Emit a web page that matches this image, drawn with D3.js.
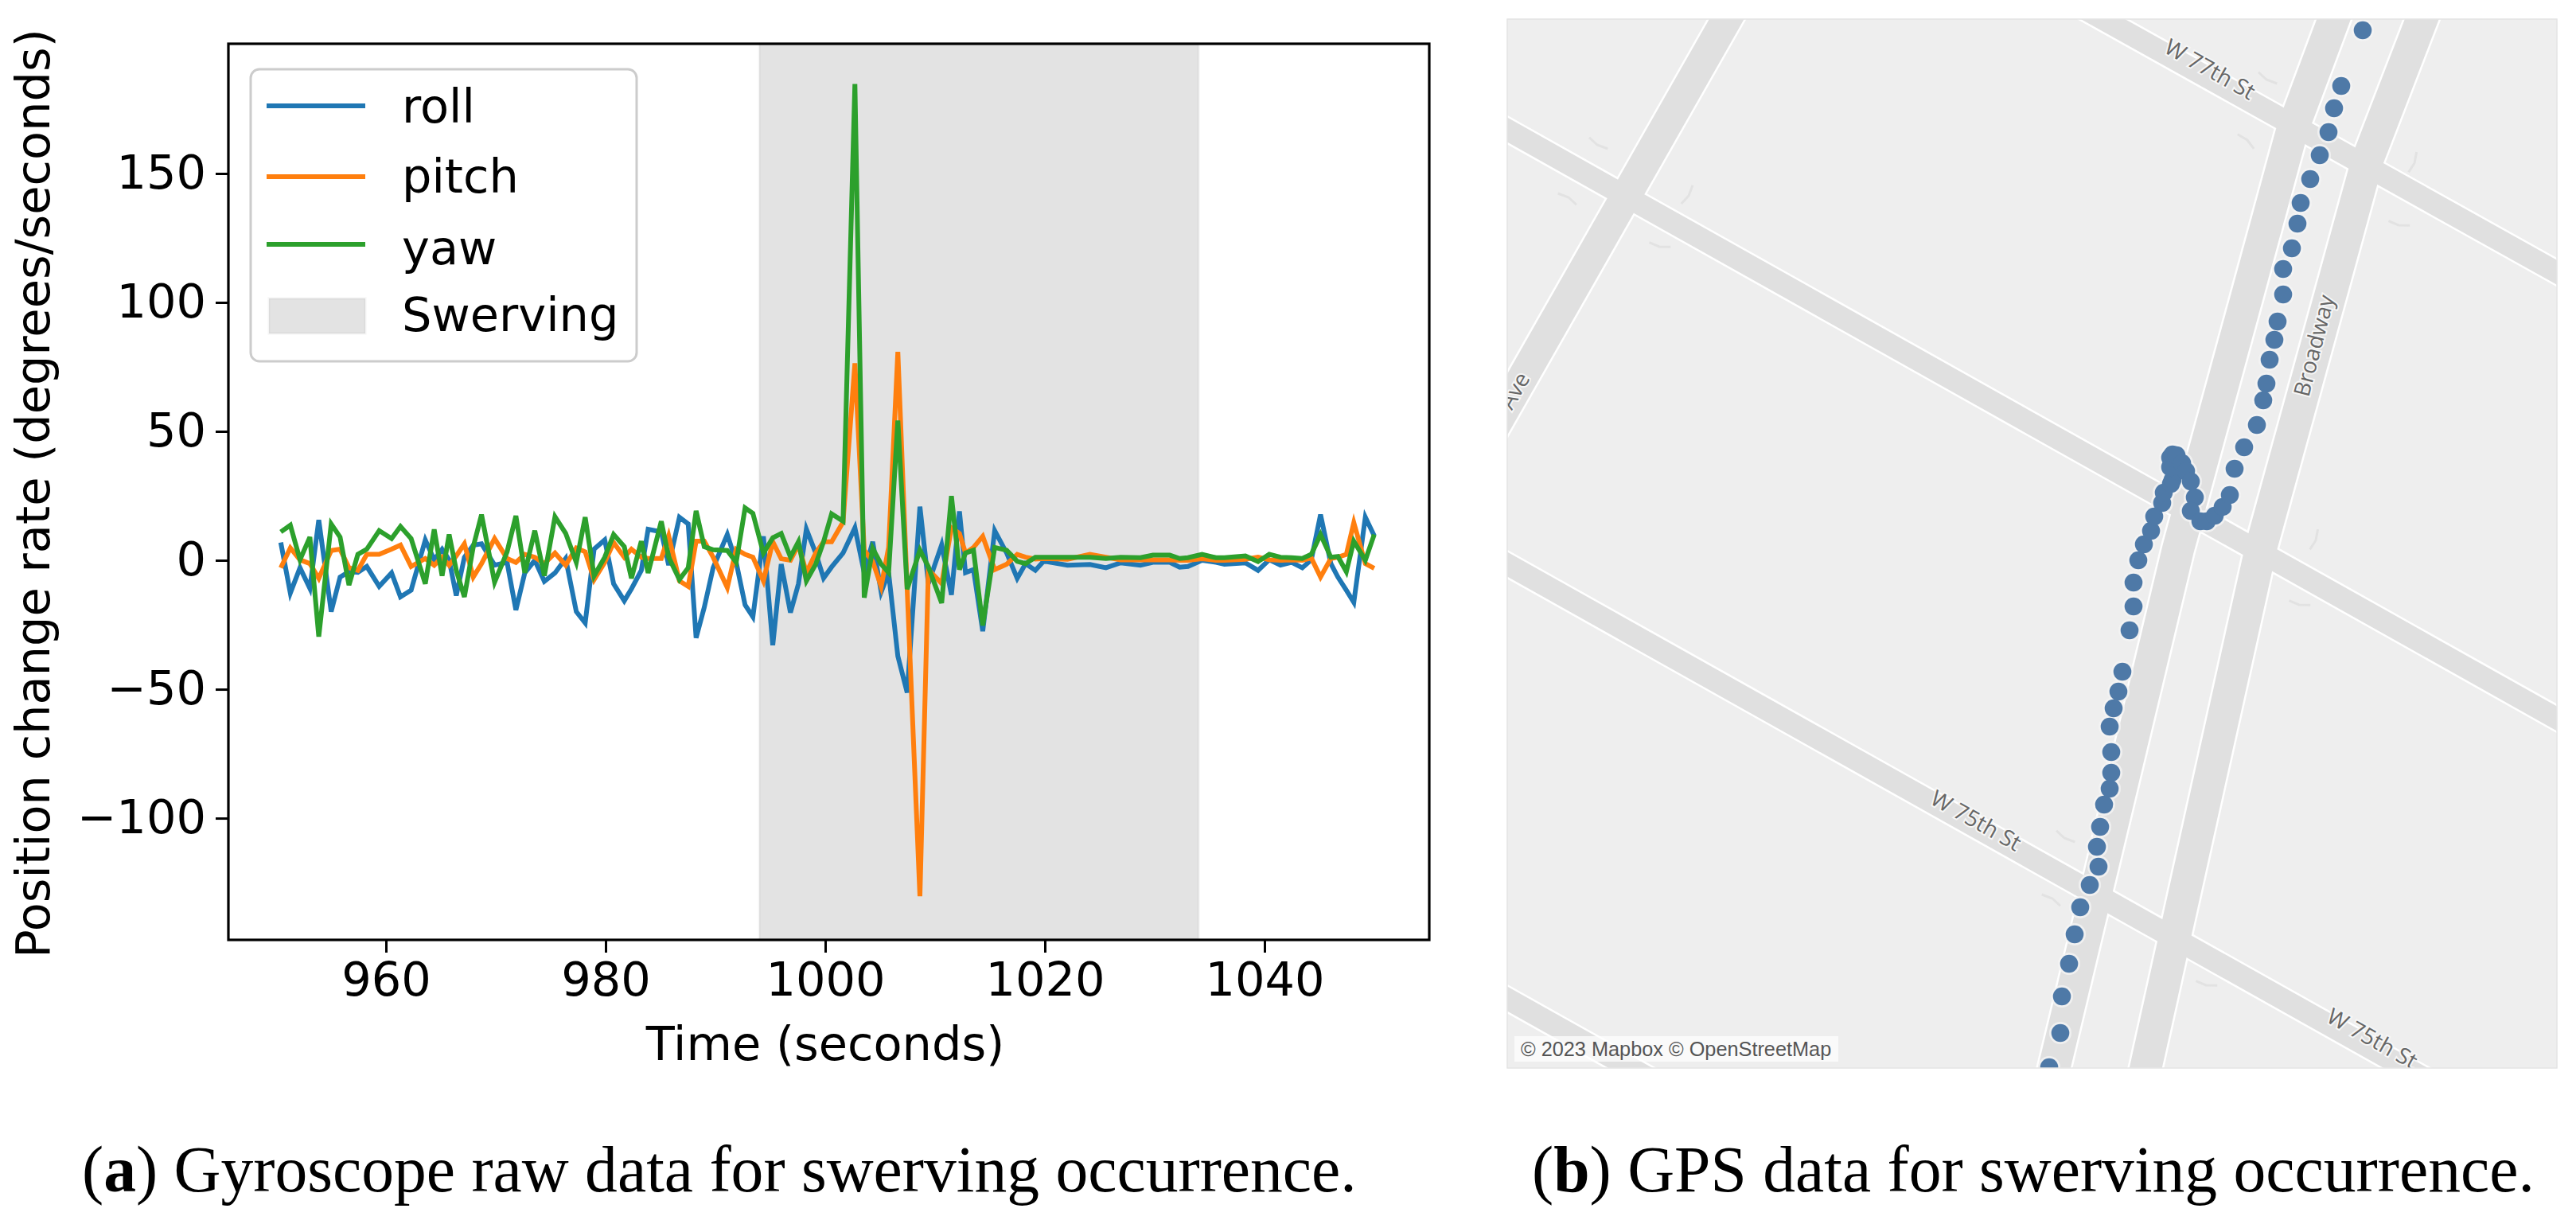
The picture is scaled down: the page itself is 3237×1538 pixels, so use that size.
<!DOCTYPE html>
<html><head><meta charset="utf-8">
<script src="https://cdnjs.cloudflare.com/ajax/libs/d3/7.8.5/d3.min.js"></script>
<style>html,body{margin:0;padding:0;background:#fff}svg{display:block}</style>
</head><body><svg id="c" width="3237" height="1538"></svg>
<script>
const time=[950.42,951.29,952.17,953.07,953.88,955.01,955.82,956.63,957.44,958.25,959.38,960.51,961.32,962.29,963.58,964.39,965.11,965.75,966.40,967.14,967.95,968.70,969.89,971.03,971.83,972.64,973.55,974.42,975.39,976.36,977.33,978.14,978.95,979.92,980.73,981.70,982.35,983.25,983.87,985.07,985.74,986.72,987.52,988.24,988.98,989.79,991.08,991.89,992.70,993.41,
994.37,995.22,995.99,996.83,997.56,998.28,999.13,999.85,1000.58,1001.62,1002.70,1003.55,1004.32,1005.09,1005.77,1006.61,1007.46,1008.62,1009.39,1010.6,1011.49,1012.22,1012.77,1013.5,1014.34,1015.43,1016.52,1017.48,
1018.24,1019.13,1019.9,1022.06,1024.1,1025.56,1026.9,1028.7,1029.84,1031.37,1032.27,1033.03,1034.31,1035.58,1036.35,1038.26,1039.41,1040.43,1041.45,1042.47,1043.44,1044.26,1045.1,1046.04,1046.68,1047.45,1048.13,1049.18,1049.99];
const roll=[6.9,-12.7,-2.9,-10.9,15.6,-19.9,-6.5,-4.4,-4.7,-2.4,-10.1,-4.9,-14.2,-11.6,7.9,0.2,4.3,0.2,-13.7,1.2,5.9,6.4,-1.9,-0.8,-19.3,-4.9,0,-8.2,-4.9,0.7,-19.9,-24.3,4.3,7.9,-9.1,-15.7,-11.1,-3.9,12,11,-1.9,16.7,14.1,-30.1,-18.3,-2.9,10,-0.8,-17.3,-21.9,
9.3,-32.9,-1.5,-20.3,-9.1,12.1,2.8,-6.9,-2.6,2.8,12.6,-4.8,7.2,-12.3,-4.8,-37.2,-51.3,20.8,-9,6,-13.4,19,-4.8,-3.6,-27.5,11.5,2.8,-7,
-1.3,-3.9,-0.3,-1.9,-1.6,-2.9,-1,-1.9,-0.8,-0.8,-2.7,-2.4,0,-0.8,-1.5,-1,-3.9,0.2,-1.9,-0.8,-2.9,0.2,17.7,-1.3,-6.5,-11.6,-16.3,16.7,9.5];
const pitch=[-2.9,4.8,0.2,-1.3,-7,3.8,4.3,-2.9,-3.9,2.3,2.3,4.3,5.9,-2.4,0.7,-1.9,1.2,-1.9,1.7,6.4,-6.5,-1.3,8.4,0.7,-0.8,2.3,1.2,-1.3,2.8,-1.9,4.8,3.3,-7.5,-0.8,6.9,1.2,4.3,1.2,0.7,0.7,9.5,-8,-10.1,7.4,7.4,1.2,-10.6,4.3,2.3,1.2,
-8,7.2,0.6,0,6,-4.8,2.8,7.2,7.2,14.8,76.4,3.9,-0.4,-10.2,5,80.8,-11.2,-130.3,-3.6,-9,12.6,10.4,2.8,5,9.3,-3.6,-1.5,2.3,
1.2,0.5,0.7,0.4,2.3,1.2,0.2,0.2,0.2,0.2,0,0,0.6,0,0,0.4,1.2,0.2,0,0.2,0,0.9,-6.5,0.7,1.2,2.3,14.6,-1.3,-3.1];
const yaw=[11,13.6,0.2,9,-29.6,14.1,9,-9.6,2.3,4.3,11.5,8.4,13.1,8.4,-9.1,12,-6,10,-3.9,-14.2,5.3,17.7,-8.5,3.3,17.2,-4.9,11.5,-6,16.9,10.5,-0.8,16.7,-6,1.2,10,5.3,-7,7.4,-4.9,15.1,1.2,-7.5,-2.9,19.2,5.3,4.1,3.8,-0.8,20.3,18.2,
2.8,8.7,10.4,1.3,7.2,-8,-1.5,7.2,18,15.2,184.7,-14.5,4.6,-1.5,-4.8,54.2,-11.2,3.9,-2.5,-16.6,24.9,-3.6,2.8,3.9,-25.3,5,3.9,-0.4,
-1.3,1.2,1.2,1.2,1.2,0.7,1.2,1,2,2,0.7,1,2.3,1,1,1.7,-0.5,2.3,1.2,1,0.7,2.3,10,1.2,1.5,-4.4,7.4,0,10];
const swerveSpan=[994,1034];
const xTicks=[960,980,1000,1020,1040];
const yTicks=[-100,-50,0,50,100,150];
const seriesNames=["roll","pitch","yaw"];
const seriesColors=["#1f77b4","#ff7f0e","#2ca02c"];

const gpsX=[681,695,697,706,713,720,732,743,741,745,750,757,759,759,757,762,768,773,782,787,787,793,800,809,813,823,825,834,836,843,833,833,836,841,848,853,859,864,859,871,879,889,899,908,914,926,942,950,954,958,964,968,975,975,986,993,997,1009,1021,1032,1039,1048,1075];
const gpsY=[1317,1274,1228,1187,1150,1116,1088,1065,1040,1015,987,967,947,921,889,866,845,820,768,738,708,680,660,643,625,608,595,584,579,568,563,551,547,548,558,568,581,601,618,631,631,624,613,598,565,538,510,479,458,428,403,380,346,314,288,257,231,201,171,142,112,84,14];
const crossStreets=[[[-100,83],[1419,935]],[[700,-27],[1419,374]],[[-100,629],[1229,1374]],[[-100,1175],[255,1374]]];
const avenues=[[[290,-25],[-30,537]],[[1048,-25],[986,141],[843,666],[673,1378]],[[1159,-25],[1081,177],[947,665],[789,1378]]];
const curbMarks=[[113,158,150],[77,224,-30],[228,222,60],[191,286,130],[954,76,150],[930,152,-20],[1140,181,50],[1120,259,130],[1016,655,50],[700,1029,150],[685,1105,-30],[995,736,130],[878,1214,130]];
const mapLabels=[["W 77th St",882,65,29.3],["Broadway",1016,411,-75.5],["W 75th St",588,1009,29.3],["W 75th St",1086,1283,29.3],["Ave",11,468,-60]];

const svg=d3.select("#c");
// ---------- panel (a)
const x=d3.scaleLinear().domain([945.65,1055]).range([287,1796]);
const y=d3.scaleLinear().domain([-147.2,200.3]).range([1181,55]);
const sans="'DejaVu Sans'";
const fs=59;
const a=svg.append("g");
a.append("rect").attr("x",x(swerveSpan[0])).attr("width",x(swerveSpan[1])-x(swerveSpan[0])).attr("y",y.range()[1]).attr("height",y.range()[0]-y.range()[1])
 .attr("fill","#808080").attr("fill-opacity",0.22).attr("stroke","#808080").attr("stroke-opacity",0.08).attr("stroke-width",3);
const line=d3.line().x((d,i)=>x(time[i])).y(d=>y(d)).curve(d3.curveLinear);
[roll,pitch,yaw].forEach((s,i)=>a.append("path").attr("d",line(s)).attr("fill","none").attr("stroke",seriesColors[i]).attr("stroke-width",6).attr("stroke-linejoin","miter").attr("stroke-miterlimit",4));
a.append("rect").attr("x",287).attr("y",55).attr("width",1509).attr("height",1126).attr("fill","none").attr("stroke","#000").attr("stroke-width",3.2);
const ax=a.append("g").attr("transform","translate(0,1181)").call(d3.axisBottom(x).tickValues(xTicks).tickFormat(d3.format("d")).tickSize(16).tickPadding(12));
const ay=a.append("g").attr("transform","translate(287,0)").call(d3.axisLeft(y).tickValues(yTicks).tickFormat(d=>d<0?"\u2212"+(-d):d).tickSize(16).tickPadding(12));
[ax,ay].forEach(g=>{g.select(".domain").remove();g.selectAll("line").attr("stroke","#000").attr("stroke-width",3);g.selectAll("text").attr("font-family",sans).attr("font-size",fs).attr("fill","#000");});
a.append("text").attr("x",1037).attr("y",1332).attr("text-anchor","middle").attr("font-family",sans).attr("font-size",fs).text("Time (seconds)");
a.append("text").attr("transform","translate(62,620) rotate(-90)").attr("text-anchor","middle").attr("font-family",sans).attr("font-size",fs).text("Position change rate (degrees/seconds)");
// legend
const lg=a.append("g");
lg.append("rect").attr("x",315).attr("y",87).attr("width",485).attr("height",367).attr("rx",11).attr("fill","#fff").attr("fill-opacity",0.8).attr("stroke","#ccc").attr("stroke-width",3);
const ly=[133,222,307], lb=[154,242,332];
seriesNames.forEach((n,i)=>{
 lg.append("line").attr("x1",335).attr("x2",459).attr("y1",ly[i]).attr("y2",ly[i]).attr("stroke",seriesColors[i]).attr("stroke-width",6);
 lg.append("text").attr("x",505).attr("y",lb[i]).attr("font-family",sans).attr("font-size",fs).text(n);
});
lg.append("rect").attr("x",338).attr("y",375).attr("width",121).attr("height",44).attr("fill","#808080").attr("fill-opacity",0.22).attr("stroke","#808080").attr("stroke-opacity",0.08).attr("stroke-width",3);
lg.append("text").attr("x",505).attr("y",416).attr("font-family",sans).attr("font-size",fs).text("Swerving");

// ---------- panel (b)
const mx=d3.scaleLinear().domain([0,1319]).range([1894,3213]);
const my=d3.scaleLinear().domain([0,1318]).range([24,1342]);
svg.append("clipPath").attr("id","mapclip").append("rect").attr("x",1894).attr("y",24).attr("width",1319).attr("height",1318);
const m=svg.append("g").attr("clip-path","url(#mapclip)");
m.append("rect").attr("x",1894).attr("y",24).attr("width",1319).attr("height",1318).attr("fill","#eeeeee");
const road=d3.line().x(d=>mx(d[0])).y(d=>my(d[1]));
const roads=crossStreets.map(p=>({p,w:27})).concat(avenues.map((p,i)=>({p,w:i?40:38})));
roads.forEach(r=>m.append("path").attr("d",road(r.p)).attr("fill","none").attr("stroke","#fff").attr("stroke-width",r.w+5));
roads.forEach(r=>m.append("path").attr("d",road(r.p)).attr("fill","none").attr("stroke","#e0e0e0").attr("stroke-width",r.w));
curbMarks.forEach(c=>m.append("path").attr("d","M-9,-11L0,0L4,13").attr("transform",`translate(${mx(c[0])},${my(c[1])}) rotate(${c[2]})`).attr("fill","none").attr("stroke","#e2e2e2").attr("stroke-width",3));
mapLabels.forEach(l=>{
 m.append("text").attr("transform",`translate(${mx(l[1])},${my(l[2])}) rotate(${l[3]})`).attr("text-anchor","middle").attr("dominant-baseline","middle")
  .attr("font-family","'Open Sans'").attr("font-size",28).attr("fill","#666").attr("stroke","#f6f6f6").attr("stroke-width",4).attr("paint-order","stroke").text(l[0]);
});
m.selectAll("circle.halo").data(gpsX).join("circle").attr("cx",d=>mx(d)).attr("cy",(d,i)=>my(gpsY[i])).attr("r",14).attr("fill","#f4f4f4").attr("fill-opacity",0.8);
m.selectAll("circle.dot").data(gpsX).join("circle").attr("cx",d=>mx(d)).attr("cy",(d,i)=>my(gpsY[i])).attr("r",11.3).attr("fill","#4e79a7");
m.append("rect").attr("x",1903).attr("y",1302).attr("width",407).attr("height",32).attr("fill","#fff").attr("fill-opacity",0.7);
m.append("text").attr("x",1911).attr("y",1327).attr("font-family","'Liberation Sans'").attr("font-size",25.3).attr("fill","#555").text("\u00a9 2023 Mapbox \u00a9 OpenStreetMap");
svg.append("rect").attr("x",1894).attr("y",24).attr("width",1319).attr("height",1318).attr("fill","none").attr("stroke","#e4e4e4").attr("stroke-width",1.5);

// ---------- captions
const serif="'Liberation Serif'";
function caption(xp,letter,rest){
 const t=svg.append("text").attr("x",xp).attr("y",1497).attr("font-family",serif).attr("font-size",81.6).attr("fill","#000");
 t.append("tspan").text("(");
 t.append("tspan").attr("font-weight","bold").text(letter);
 t.append("tspan").text(") "+rest);
}
caption(103,"a","Gyroscope raw data for swerving occurrence.");
caption(1925,"b","GPS data for swerving occurrence.");
</script></body></html>
